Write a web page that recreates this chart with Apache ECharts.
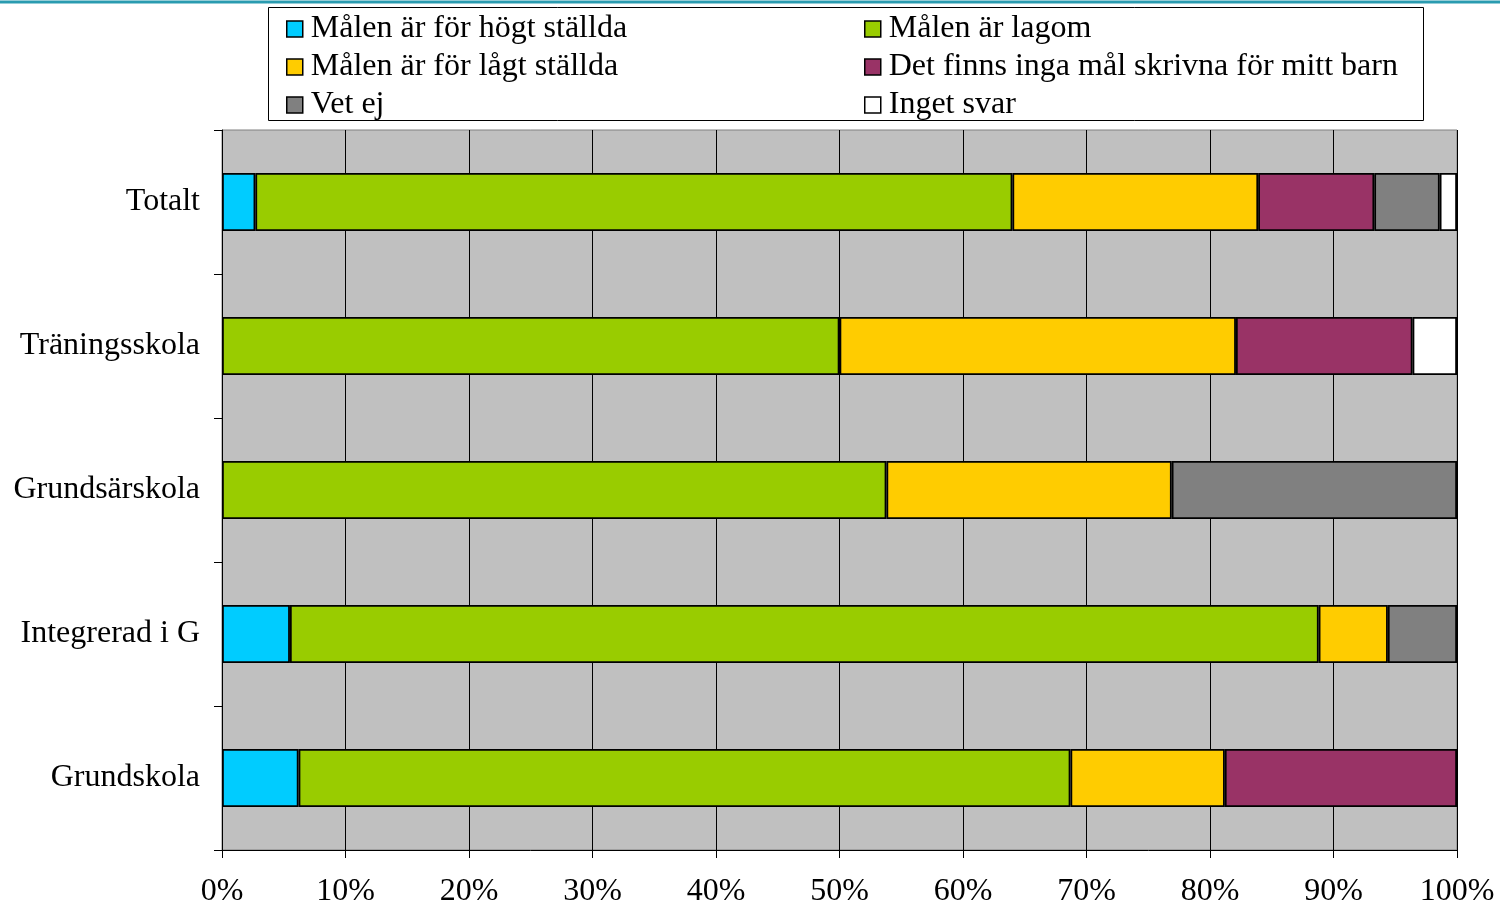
<!DOCTYPE html>
<html>
<head>
<meta charset="utf-8">
<script src="https://cdn.jsdelivr.net/npm/echarts@6/dist/echarts.min.js"></script>
<style>html,body{margin:0;padding:0;background:#fff;}#c{width:1500px;height:904px;}</style>
</head>
<body>
<div id="c"></div>
<script>
const categories = ['Totalt', 'Träningsskola', 'Grundsärskola', 'Integrerad i G', 'Grundskola'];
const seriesNames = ['Målen är för högt ställda', 'Målen är lagom', 'Målen är för lågt ställda', 'Det finns inga mål skrivna för mitt barn', 'Vet ej', 'Inget svar'];
const hogt = [2.7, null, null, 5.5, 6.2];
const lagom = [61.3, 50.0, 53.8, 83.3, 62.5];
const lagt = [19.9, 32.1, 23.1, 5.6, 12.5];
const ingaMal = [9.4, 14.3, null, null, 18.8];
const vetEj = [5.3, null, 23.1, 5.6, null];
const ingetSvar = [1.4, 3.6, null, null, null];
const colors = ['#00ccff', '#99cc00', '#ffcc00', '#993366', '#808080', '#ffffff'];
const tickLabels = ['0%', '10%', '20%', '30%', '40%', '50%', '60%', '70%', '80%', '90%', '100%'];

const values = [hogt, lagom, lagt, ingaMal, vetEj, ingetSvar];
const font = '"Liberation Serif", "DejaVu Serif", serif';

const chart = echarts.init(document.getElementById('c'), null, {renderer: 'canvas'});
const series = seriesNames.map((n, i) => ({
  name: n,
  type: 'bar',
  stack: 'total',
  barWidth: 58,
  data: values[i].map(v => v === null ? '-' : v),
  itemStyle: {color: colors[i], borderColor: '#000', borderWidth: 1.8},
  emphasis: {disabled: true},
  animation: false
}));

const legendCommon = {
  orient: 'vertical',
  top: 8,
  padding: 5,
  itemWidth: 16,
  itemHeight: 16,
  itemGap: 6,
  icon: 'rect',
  textStyle: {fontFamily: font, fontSize: 32, color: '#000', lineHeight: 32, padding: [0, 0, 0, 3]},
  itemStyle: {borderColor: '#000', borderWidth: 1.5},
  selectedMode: false
};

chart.setOption({
  animation: false,
  backgroundColor: '#fff',
  graphic: [
    {type: 'line', shape: {x1: 0, y1: 2, x2: 1500, y2: 2}, style: {stroke: '#2a9bb0', lineWidth: 3}, z: 10},
    {type: 'rect', shape: {x: 268.5, y: 7.5, width: 1155, height: 113}, style: {fill: '#fff', stroke: '#000', lineWidth: 1}, z: -1}
  ],
  legend: [
    Object.assign({}, legendCommon, {left: 281, data: [seriesNames[0], seriesNames[2], seriesNames[4]]}),
    Object.assign({}, legendCommon, {left: 859, data: [seriesNames[1], seriesNames[3], seriesNames[5]]})
  ],
  grid: {left: 222, right: 43, top: 130, bottom: 54, show: true, backgroundColor: '#c0c0c0', borderColor: '#808080', borderWidth: 1, containLabel: false, outerBoundsMode: 'none'},
  xAxis: {
    type: 'value', min: 0, max: 100, interval: 10,
    axisLine: {show: true, lineStyle: {color: '#000', width: 1}},
    axisTick: {show: true, length: 8, lineStyle: {color: '#000'}},
    splitLine: {show: true, lineStyle: {color: '#000', width: 1}},
    axisLabel: {margin: 26, fontFamily: font, fontSize: 32, color: '#000', formatter: (v) => tickLabels[Math.round(v / 10)]}
  },
  yAxis: {
    type: 'category', data: categories, inverse: true,
    axisLine: {show: true, lineStyle: {color: '#000', width: 1}},
    axisTick: {show: true, length: 8, lineStyle: {color: '#000'}},
    axisLabel: {margin: 22, fontFamily: font, fontSize: 32, color: '#000'}
  },
  series: series
});
</script>
</body>
</html>
